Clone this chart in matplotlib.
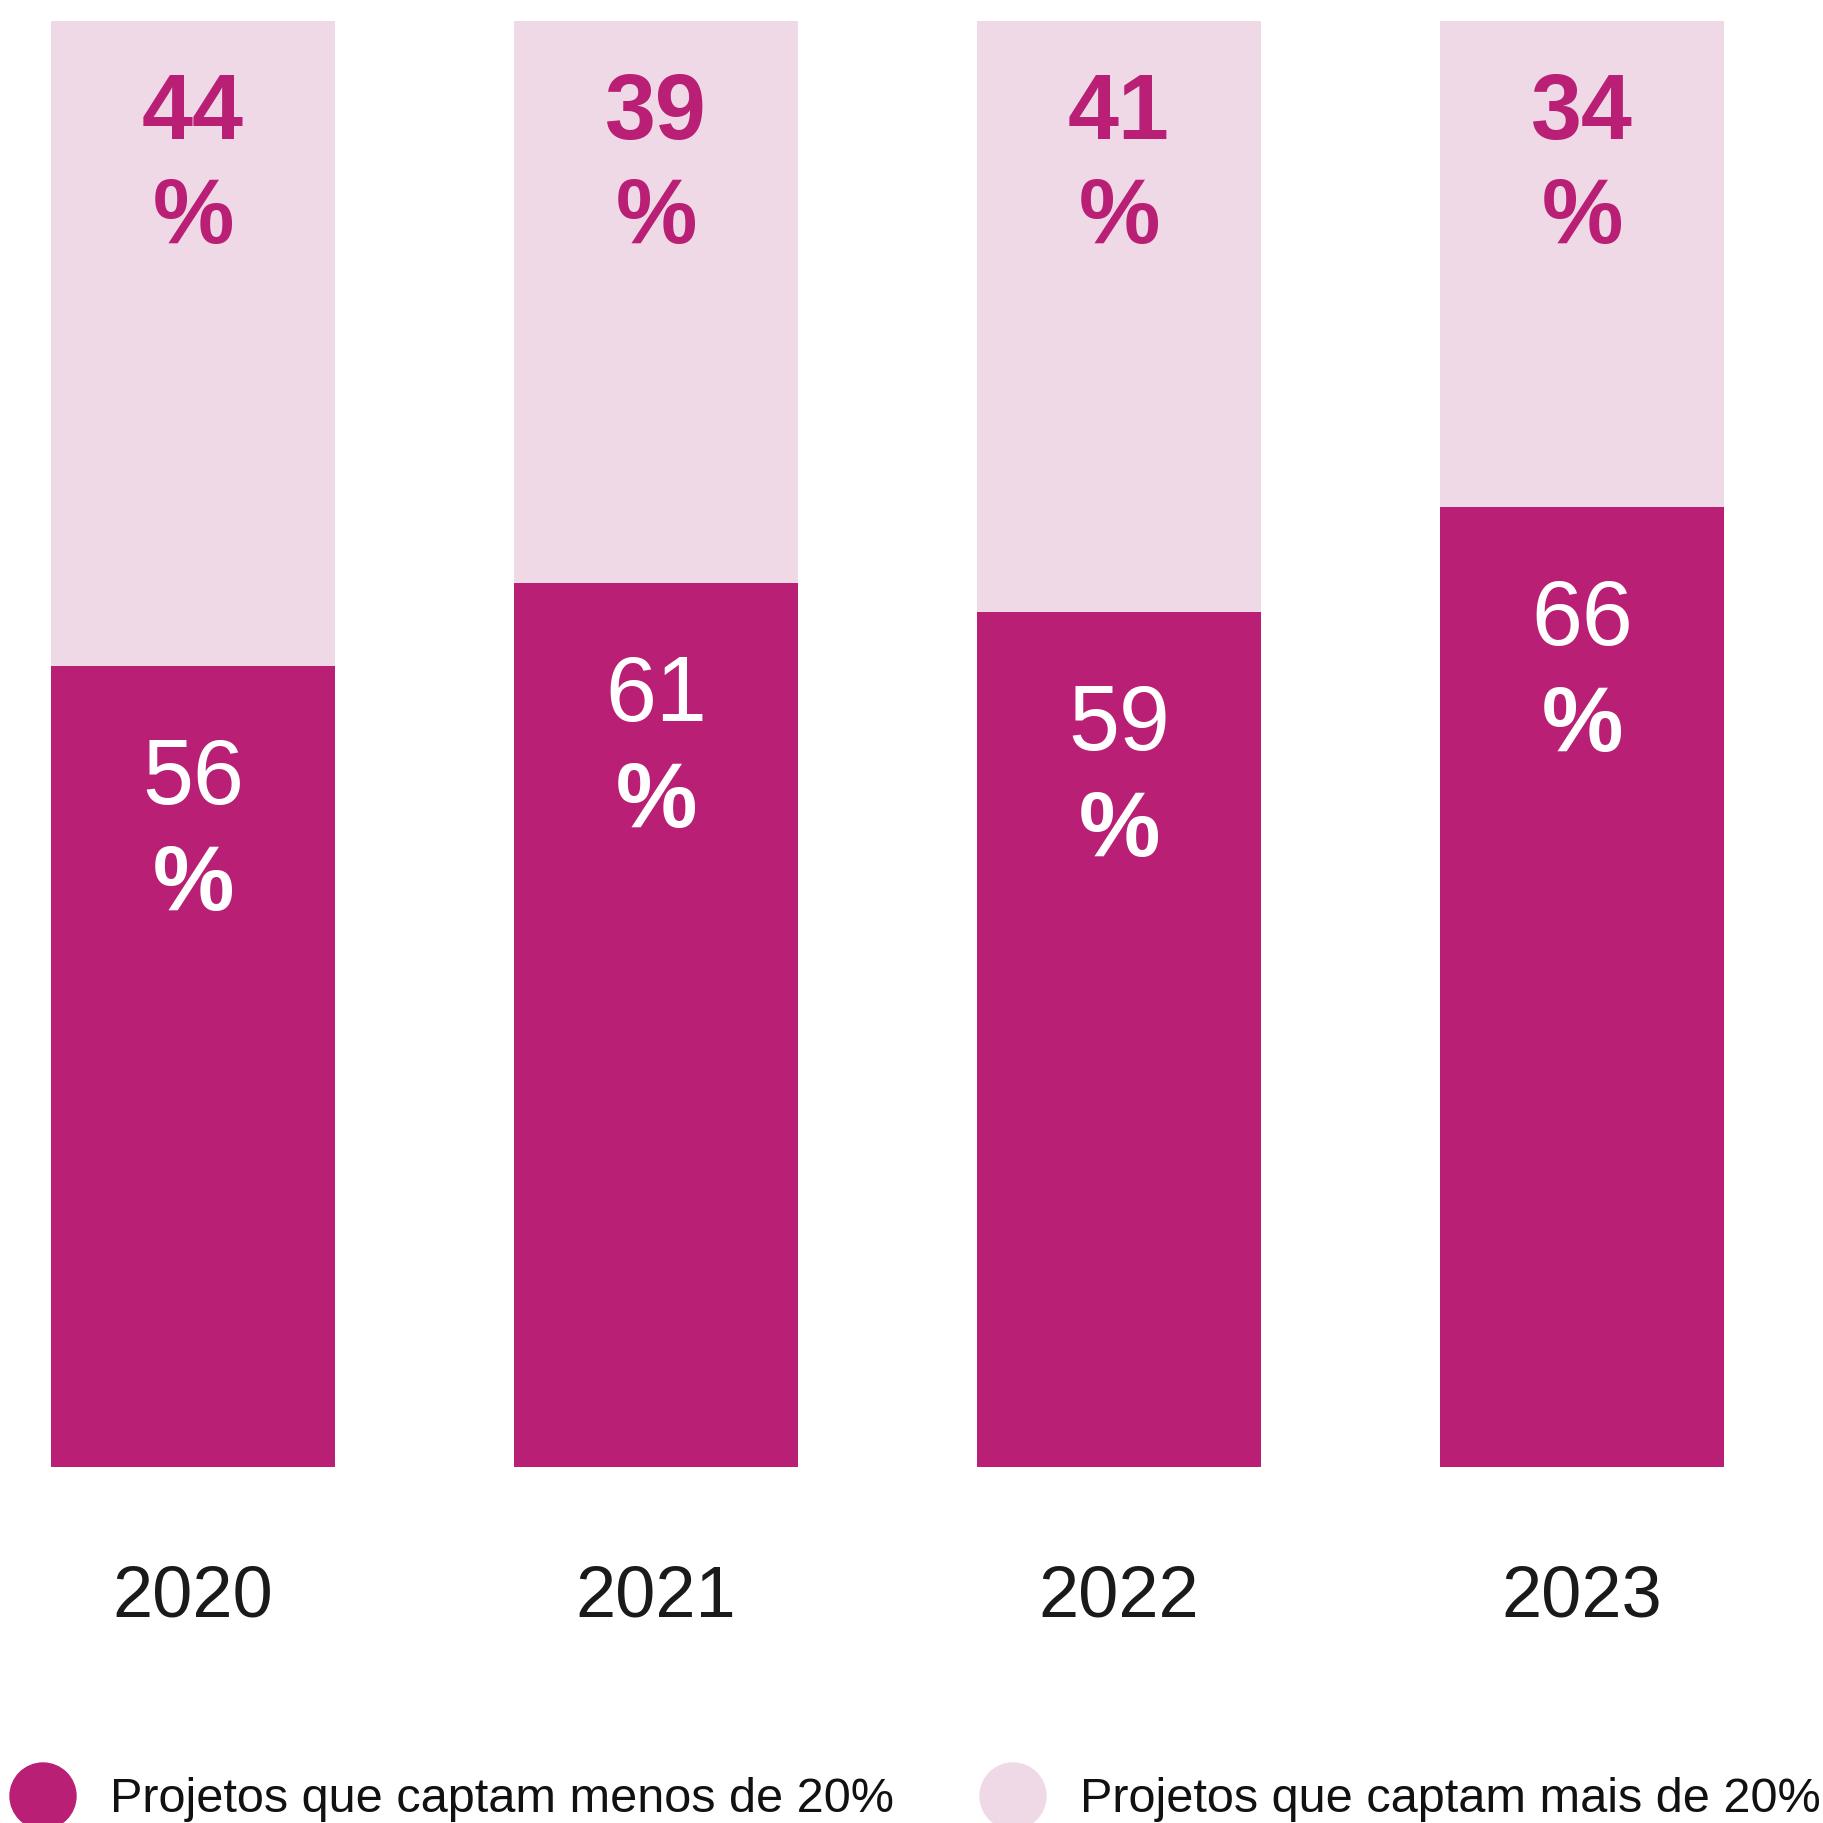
import matplotlib.pyplot as plt
from matplotlib.patches import Circle

plt.rcParams['font.family'] = ['Liberation Sans', 'DejaVu Sans']

years = ['2020', '2021', '2022', '2023']
menos = [55.4, 61.1, 59.1, 66.4]   # projetos que captam menos de 20% (bar heights)
mais = [44.6, 38.9, 40.9, 33.6]    # projetos que captam mais de 20%
menos_labels = ['56', '61', '59', '66']
mais_labels = ['44', '39', '41', '34']
legend_labels = ['Projetos que captam menos de 20%', 'Projetos que captam mais de 20%']

dark = '#B91F75'
light = '#EFD9E6'

fig = plt.figure(figsize=(18.24, 18.24), dpi=100)
ax = fig.add_axes([0, 0, 1, 1])

x = list(range(len(years)))
ax.bar(x, menos, width=0.613, color=dark)
ax.bar(x, mais, bottom=menos, width=0.613, color=light)

# px -> data units (1446 px for 100 units)
u = 100 / 1446
for i in x:
    top_dark = menos[i]
    top_light = menos[i] + mais[i]
    ax.text(i, top_light - 117 * u, mais_labels[i], ha='center', va='baseline',
            fontsize=66, color=dark, fontweight='bold')
    ax.text(i, top_light - 221 * u, '%', ha='center', va='baseline',
            fontsize=66, color=dark, fontweight='bold')
    ax.text(i, top_dark - 137 * u, menos_labels[i], ha='center', va='baseline',
            fontsize=66, color='white')
    ax.text(i, top_dark - 243 * u, '%', ha='center', va='baseline',
            fontsize=66, color='white', fontweight='bold')
    ax.text(i, -149 * u, years[i], ha='center', va='baseline',
            fontsize=52, color='#1a1a1a')

ax.set_xlim(-193 / 463, -193 / 463 + 1824 / 463)
ax.set_ylim(-(1824 - 1468) * u, 100 + 22 * u)
ax.axis('off')

# legend
for cx, tx, col, lab in [(43, 110, dark, legend_labels[0]),
                         (1013, 1080, light, legend_labels[1])]:
    fig.patches.append(Circle((cx / 1824, 1 - 1797 / 1824), 33 / 1824,
                              transform=fig.transFigure, color=col))
    fig.text(tx / 1824, 1 - 1812 / 1824, lab, ha='left', va='baseline',
             fontsize=35, color='#111111')

fig.savefig('out.png', dpi=100)
